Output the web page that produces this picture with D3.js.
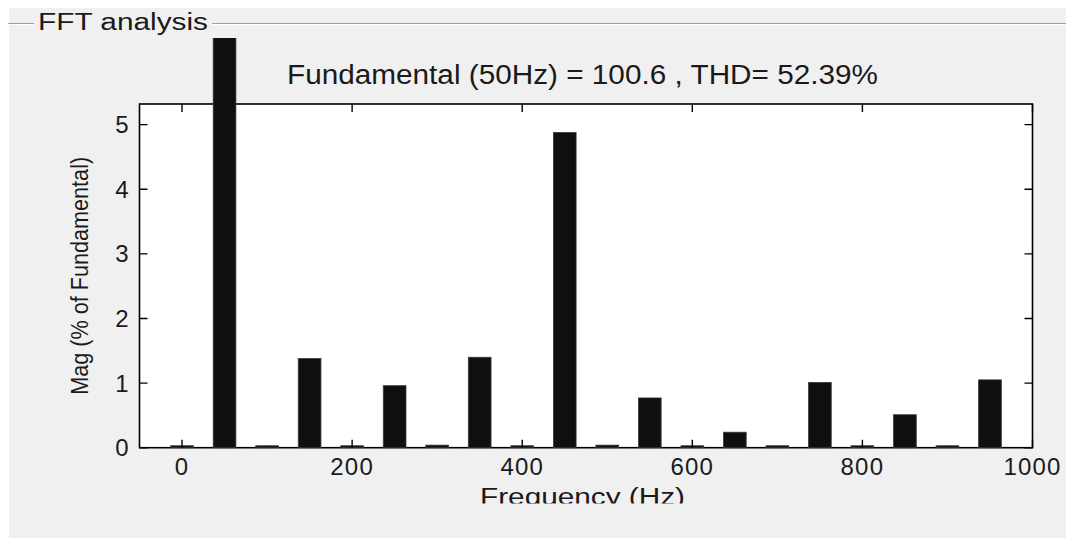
<!DOCTYPE html>
<html>
<head>
<meta charset="utf-8">
<script src="https://cdn.jsdelivr.net/npm/d3@7"></script>
<style>
  body { margin: 0; background: #fff; }
  svg { display: block; font-family: "Liberation Sans", Arial, sans-serif; }
</style>
</head>
<body>
<svg id="chart" width="1066" height="538"></svg>
<script>
// harmonic frequencies (Hz) and magnitudes (% of fundamental)
const frequencies = [0, 50, 100, 150, 200, 250, 300, 350, 400, 450, 500, 550, 600, 650, 700, 750, 800, 850, 900, 950];
const magnitudes = [0.03, 100, 0.03, 1.38, 0.03, 0.96, 0.04, 1.4, 0.03, 4.88, 0.04, 0.77, 0.03, 0.24, 0.03, 1.01, 0.03, 0.51, 0.03, 1.05];

const xTicks = [0, 200, 400, 600, 800, 1000];
const yTicks = [0, 1, 2, 3, 4, 5];

const panelTitle = "FFT analysis";
const chartTitle = "Fundamental (50Hz) = 100.6 , THD= 52.39%";
const xLabel = "Frequency (Hz)";
const yLabel = "Mag (% of Fundamental)";

const width = 1066;
const height = 538;
const plot = { left: 139.5, right: 1032.5, top: 104, bottom: 447.7 };
const barWidthHz = 26.7;
const tickLen = 8;

const x = d3.scaleLinear().domain([-50, 1000]).range([plot.left, plot.right]);
const y = d3.scaleLinear().domain([0, 5.32]).range([plot.bottom, plot.top]);

const svg = d3.select("#chart");

// panel background
svg.append("rect").attr("width", width).attr("height", height).attr("fill", "#fff");
svg.append("rect")
  .attr("x", 9).attr("y", 8)
  .attr("width", width - 9).attr("height", height - 8)
  .attr("fill", "#f0f0f0");

// etched group box line with title
const lines = [[8, 34], [212, width]];
for (const [x0, x1] of lines) {
  svg.append("line").attr("x1", x0).attr("x2", x1).attr("y1", 23.5).attr("y2", 23.5)
    .attr("stroke", "#a0a0a0").attr("stroke-width", 1);
  svg.append("line").attr("x1", x0).attr("x2", x1).attr("y1", 24.5).attr("y2", 24.5)
    .attr("stroke", "#ffffff").attr("stroke-width", 1);
}
svg.append("text")
  .attr("x", 38).attr("y", 30)
  .attr("font-size", 23)
  .attr("textLength", 170).attr("lengthAdjust", "spacingAndGlyphs")
  .attr("fill", "#1a1a1a")
  .text(panelTitle);

// clip for the panel content area
const defs = svg.append("defs");
defs.append("clipPath").attr("id", "panel-clip")
  .append("rect").attr("x", 9).attr("y", 38).attr("width", width - 9).attr("height", 503.5 - 38);

const g = svg.append("g").attr("clip-path", "url(#panel-clip)");

// axes area
g.append("rect")
  .attr("x", plot.left).attr("y", plot.top)
  .attr("width", plot.right - plot.left).attr("height", plot.bottom - plot.top)
  .attr("fill", "#fff")
  .attr("stroke", "#000")
  .attr("stroke-width", 1.6);

// bars
g.append("g")
  .selectAll("rect")
  .data(frequencies.map((f, i) => ({ f, v: magnitudes[i] })))
  .join("rect")
  .attr("x", (d) => x(d.f - barWidthHz / 2))
  .attr("width", (d) => x(barWidthHz) - x(0))
  .attr("y", (d) => y(d.v))
  .attr("height", (d) => y(0) - y(d.v))
  .attr("fill", "#0f0f0f")
  .attr("stroke", "#3a3a3a")
  .attr("stroke-width", 0.8);

// ticks on all four sides, pointing inward
const ticks = g.append("g").attr("stroke", "#000").attr("stroke-width", 1.4);
for (const t of xTicks) {
  ticks.append("line").attr("x1", x(t)).attr("x2", x(t))
    .attr("y1", plot.bottom).attr("y2", plot.bottom - tickLen);
  ticks.append("line").attr("x1", x(t)).attr("x2", x(t))
    .attr("y1", plot.top).attr("y2", plot.top + tickLen);
}
for (const t of yTicks) {
  ticks.append("line").attr("y1", y(t)).attr("y2", y(t))
    .attr("x1", plot.left).attr("x2", plot.left + tickLen);
  ticks.append("line").attr("y1", y(t)).attr("y2", y(t))
    .attr("x1", plot.right).attr("x2", plot.right - tickLen);
}

// tick labels
g.append("g")
  .attr("font-size", 24)
  .attr("letter-spacing", 1.2)
  .attr("text-anchor", "middle")
  .attr("fill", "#1a1a1a")
  .selectAll("text")
  .data(xTicks)
  .join("text")
  .attr("x", (d) => x(d))
  .attr("y", 475)
  .text((d) => d);

g.append("g")
  .attr("font-size", 24)
  .attr("text-anchor", "end")
  .attr("fill", "#1a1a1a")
  .selectAll("text")
  .data(yTicks)
  .join("text")
  .attr("x", plot.left - 11)
  .attr("y", (d) => y(d) + 8.5)
  .text((d) => d);

// labels
g.append("text")
  .attr("x", 582.5).attr("y", 84)
  .attr("text-anchor", "middle")
  .attr("font-size", 27)
  .attr("textLength", 591).attr("lengthAdjust", "spacingAndGlyphs")
  .attr("fill", "#1a1a1a")
  .text(chartTitle);

g.append("text")
  .attr("x", 582.5).attr("y", 504.5)
  .attr("text-anchor", "middle")
  .attr("font-size", 23)
  .attr("textLength", 205).attr("lengthAdjust", "spacingAndGlyphs")
  .attr("fill", "#1a1a1a")
  .text(xLabel);

g.append("text")
  .attr("transform", `translate(88,${(plot.top + plot.bottom) / 2}) rotate(-90)`)
  .attr("text-anchor", "middle")
  .attr("font-size", 23)
  .attr("textLength", 238).attr("lengthAdjust", "spacingAndGlyphs")
  .attr("fill", "#1a1a1a")
  .text(yLabel);
</script>
</body>
</html>
